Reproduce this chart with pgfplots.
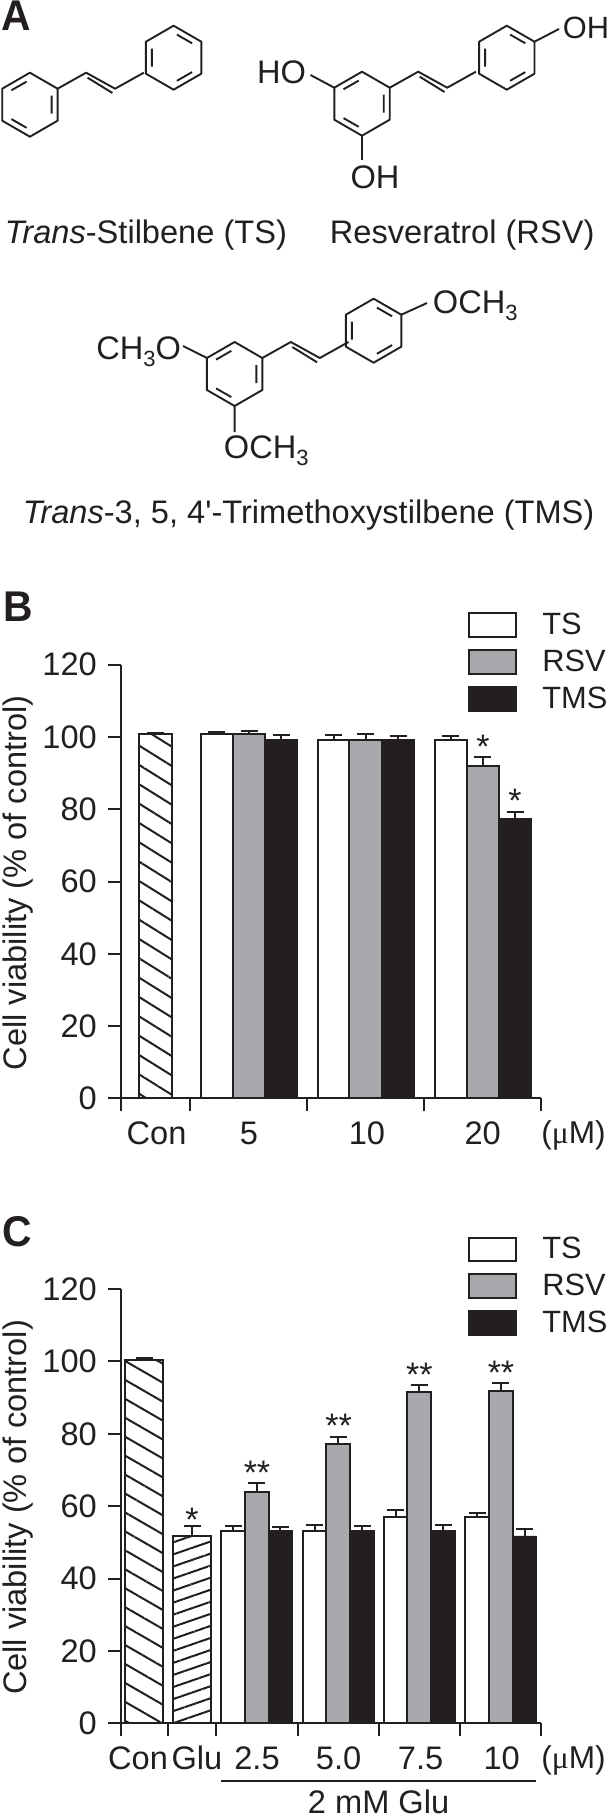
\documentclass[border=0pt]{standalone}
\usepackage{pgfplots}
\pgfplotsset{compat=1.18}
\usepackage{fontspec}
\setmainfont{Liberation Sans}
\newfontfamily\plainf{Liberation Sans}
\newfontfamily\serifmu{Liberation Serif}
\usetikzlibrary{patterns.meta}
\definecolor{ink}{HTML}{231F20}
\definecolor{midgray}{HTML}{A7A9AC}
\newcommand{\fs}{\fontsize{16.3}{19}\selectfont}
\newcommand{\sub}{\raisebox{-3.5pt}{\fontsize{11}{12}\selectfont 3}}
\newcommand{\ringA}[2]{\begin{scope}[shift={(#1,#2)}]
 \draw[line join=round] (0,-32)--(27.7,-16)--(27.7,16)--(0,32)--(-27.7,16)--(-27.7,-16)--cycle;
 \draw (-18.5,-14.4)--(-3.3,-23.1) (21.7,-9)--(21.7,9) (-18.5,14.4)--(-3.3,23.1);
 \end{scope}}
\newcommand{\ringB}[2]{\begin{scope}[shift={(#1,#2)}]
 \draw[line join=round] (0,-32)--(27.7,-16)--(27.7,16)--(0,32)--(-27.7,16)--(-27.7,-16)--cycle;
 \draw (-21.7,-9)--(-21.7,9) (3.3,-23.1)--(18.5,-14.4) (3.3,23.1)--(18.5,14.4);
 \end{scope}}
\newcommand{\chain}[2]{\begin{scope}[shift={(#1,#2)}]
 \draw[line join=round] (0,0)--(28.5,-16)--(57.5,0)--(86.2,-16);
 \draw (30,-11)--(54.8,4.3);
 \end{scope}}
\tikzset{sig/.style={font=\fontsize{17}{20}\selectfont, anchor=base, yshift=-9.7pt, inner sep=0pt}}
\pgfplotsset{
 panel/.style={
  scale only axis, width=209.9pt, clip=false,
  xmin=121.2, xmax=541, ymin=0, ymax=120, ytick distance=20,
  axis x line*=bottom, axis y line*=left,
  axis line style={-, line width=1pt, ink},
  tick style={line width=1pt, ink},
  tick align=outside, major tick length=6.5pt, minor tick length=6.5pt,
  every major x tick/.style={draw=none},
  tick label style={font=\fs, ink},
  /pgf/number format/assume math mode=true,
  yticklabel style={inner sep=0pt, xshift=-5.5pt},
  xticklabel style={inner sep=0pt, anchor=base, yshift=-16.5pt},
  ybar, bar shift=0pt,
  every axis y label/.style={at={(axis description cs:-0.2256,0.497)},rotate=90,anchor=base,font=\fs,ink},
  ylabel={Cell viability (\% of control)},
  legend cell align=left,
  legend style={draw=none, fill=none, inner sep=0pt, font=\fontsize{15.4}{18}\selectfont, text=ink,
    anchor=north west, row sep=5.6pt, column sep=12.5pt,
    nodes={inner sep=0pt}},
  legend image code/.code={\draw[#1,line width=1pt] (0pt,-5.9pt) rectangle (23.5pt,5.9pt);},
 },
 errs/.style={error bars/.cd, y dir=plus, y explicit,
   error bar style={line width=1pt, ink},
   error mark options={rotate=90, line width=1pt, ink, mark size=4.25pt}},
}
\begin{document}
\color{ink}
\begin{tikzpicture}
\path[use as bounding box] (0,0) rectangle (304.5pt,-909.5pt);

% Panel A: structures, coordinates in reference pixels
\begin{scope}[x=0.5pt,y=-0.5pt,line width=0.95pt,ink]
 \node[anchor=base west,inner sep=0pt,font=\bfseries\fontsize{21.5}{24}\selectfont,xscale=0.95] at (1,31) {A};
 \node[anchor=base west,inner sep=0pt,font=\bfseries\fontsize{21.5}{24}\selectfont,xscale=0.95] at (3,621) {B};
 \node[anchor=base west,inner sep=0pt,font=\bfseries\fontsize{21.5}{24}\selectfont,xscale=0.95] at (2,1246) {C};
 % trans-stilbene
 \ringA{29.9}{104.7}\ringB{173.6}{57.7}\chain{57.6}{88.7}
 % resveratrol
 \ringA{362}{103.7}\ringB{506.8}{57.7}\chain{389.7}{87.7}
 \draw (334.3,87.7)--(310.5,75) (362,135.7)--(362,160) (534.5,41.7)--(559,29);
 \node[anchor=base east,inner sep=0pt,font=\fs] at (307,84) {HO};
 \node[anchor=base,inner sep=0pt,font=\fs] at (375,189) {OH};
 \node[anchor=base west,inner sep=0pt,font=\fontsize{15.4}{18}\selectfont] at (562,39) {OH};
 % TMS
 \ringA{234.6}{374}\ringB{373.6}{330.7}\chain{262.3}{358}
 \draw (206.9,358)--(183,346) (234.6,406)--(234.6,432) (401.3,314.7)--(427,303);
 \node[anchor=base east,inner sep=0pt,font=\fs] at (182,359) {CH\sub O};
 \node[anchor=base west,inner sep=0pt,font=\fs] at (432,314) {OCH\sub};
 \node[anchor=base west,inner sep=0pt,font=\fs] at (223,458) {OCH\sub};
 % names
 \node[anchor=base west,inner sep=0pt,font=\fs] at (4,243) {\textit{Trans}-Stilbene (TS)};
 \node[anchor=base west,inner sep=0pt,font=\fs] at (329,243) {Resveratrol (RSV)};
 \node[anchor=base west,inner sep=0pt,font=\fs] at (22,523) {\textit{Trans}-3, 5, 4{\plainf '}-Trimethoxystilbene (TMS)};
\end{scope}

% Panel B
\begin{axis}[panel, at={(60.6pt,-549.15pt)}, anchor=south west, height=216.8pt,
  xtick={156.5,249,367,482.7}, xticklabels={Con,5,10,20},
  minor xtick={121.2,190.3,307.2,424.1,541},
  bar width=16.2pt,
  legend style={at={(axis cs:468,134.6)}}]
 \addplot[forget plot, draw=ink, line width=1pt, fill=white, postaction={pattern={Lines[angle=-32,distance=8.2pt,line width=1pt]},pattern color=ink},errs]
  table[x=x,y=y,y error=e]{
  x y e
  155.4 100.7 0.5
 };
 \addplot[draw=ink, line width=1pt, fill=white, errs]
  table[x=x,y=y,y error=e]{
  x y e
  216.9 100.7 0.8
  333.9 99.2 1.4
  450.7 99.2 1.0
 };
 \addplot[draw=ink, line width=1pt, fill=midgray, errs]
  table[x=x,y=y,y error=e]{
  x y e
  249 100.7 1.0
  365.5 99.2 1.5
  482.7 92.0 2.4
 };
 \addplot[draw=ink, line width=0.3pt, fill=ink, errs]
  table[x=x,y=y,y error=e]{
  x y e
  281.4 99.3 1.3
  398 99.4 1.0
  515 77.4 1.9
 };
 \legend{TS,RSV,TMS}
 \node[sig] at (axis cs:483,99.4) {*};
 \node[sig] at (axis cs:515,84.5) {*};
 \node[anchor=base west,inner sep=0pt,font=\fontsize{15.8}{18}\selectfont] at (axis cs:541,-12.4) {({\serifmu μ}M)};
\end{axis}

% Panel C
\begin{axis}[panel, at={(60.6pt,-861.65pt)}, anchor=south west, height=217.15pt,
  xtick={138,197,257,338.6,420.6,501.7}, xticklabels={Con,Glu,2.5,5.0,7.5,10},
  minor xtick={121.2,168.5,216.3,297.5,378.6,459.7,541},
  bar width=12pt,
  legend style={at={(axis cs:468,134.6)}}]
 \addplot[forget plot, bar width=19pt, draw=ink, line width=1pt, fill=white, postaction={pattern={Lines[angle=-30,distance=8.2pt,line width=1pt]},pattern color=ink},errs]
  table[x=x,y=y,y error=e]{
  x y e
  144.5 100.4 0.6
 };
 \addplot[forget plot, bar width=19pt, draw=ink, line width=1pt, fill=white, postaction={pattern={Lines[angle=19,distance=5.7pt,line width=1pt]},pattern color=ink},errs]
  table[x=x,y=y,y error=e]{
  x y e
  192.2 51.8 2.7
 };
 \addplot[draw=ink, line width=1pt, fill=white, errs]
  table[x=x,y=y,y error=e]{
  x y e
  233 53.1 1.5
  314.7 53.1 1.8
  395.7 56.9 2.0
  477 56.9 1.3
 };
 \addplot[draw=ink, line width=1pt, fill=midgray, errs]
  table[x=x,y=y,y error=e]{
  x y e
  256.5 64.0 2.3
  338.2 77.1 2.1
  419.2 91.5 2.0
  500.6 91.7 2.3
 };
 \addplot[draw=ink, line width=0.3pt, fill=ink, errs]
  table[x=x,y=y,y error=e]{
  x y e
  280.4 53.2 1.0
  362 53.2 1.4
  443 53.2 1.7
  524.6 51.8 1.8
 };
 \legend{TS,RSV,TMS}
 \node[sig] at (axis cs:192,58.5) {*};
 \node[sig] at (axis cs:257,71.4) {**};
 \node[sig] at (axis cs:338.6,84.4) {**};
 \node[sig] at (axis cs:419.4,98.5) {**};
 \node[sig] at (axis cs:501,99) {**};
 \node[anchor=base west,inner sep=0pt,font=\fontsize{15.8}{18}\selectfont] at (axis cs:541,-12.4) {({\serifmu μ}M)};
 \draw[line width=1pt,ink] (axis cs:221.4,-16.0) -- (axis cs:536,-16.0);
 \node[anchor=base,inner sep=0pt,font=\fs] at (axis cs:378.6,-24.8) {2 mM Glu};
\end{axis}
\end{tikzpicture}
\end{document}
